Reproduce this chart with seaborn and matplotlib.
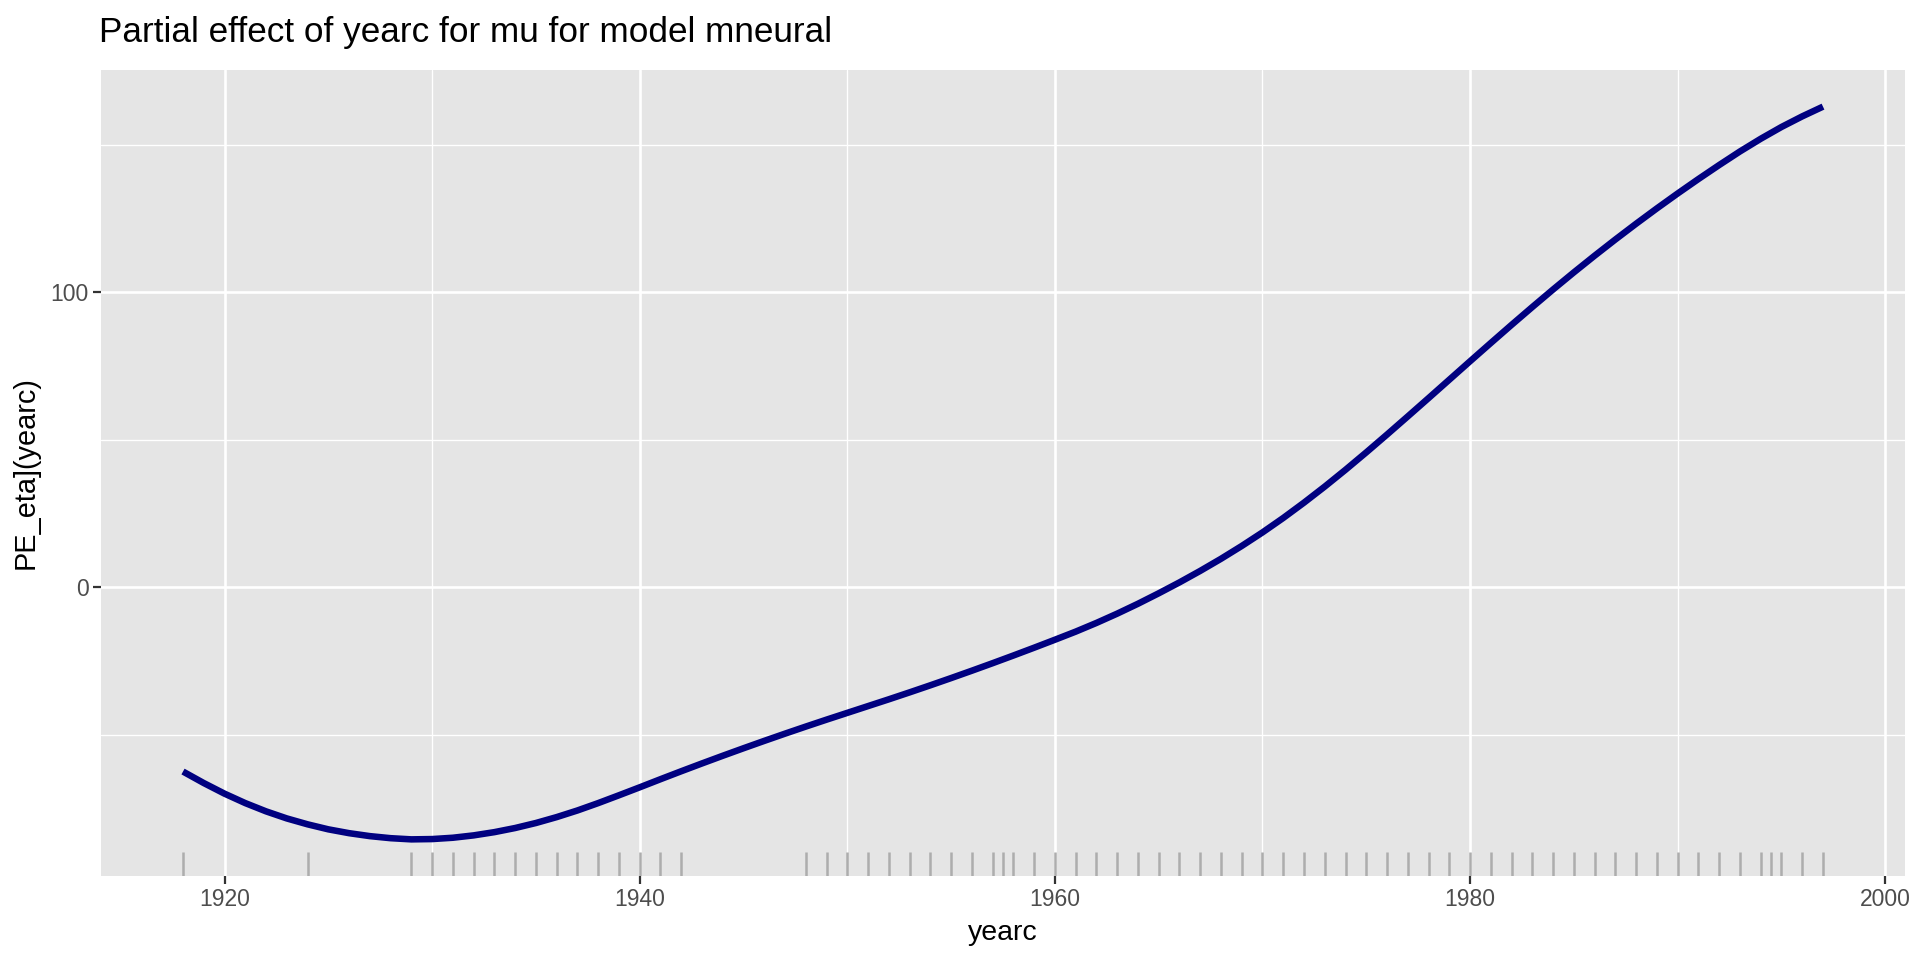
import seaborn as sns
import pandas as pd
import numpy as np
import matplotlib.pyplot as plt
from matplotlib.ticker import FixedLocator

# partial effect curve (one value per year)
years = list(range(1918, 1998))
effect = [-62.5, -66.4, -70.0, -73.2, -76.0, -78.4, -80.4, -82.1, -83.4, -84.4,
          -85.1, -85.5, -85.4, -84.95, -84.15, -83.05, -81.65, -79.95, -77.95, -75.7,
          -73.2, -70.55, -67.85, -65.1, -62.4, -59.75, -57.15, -54.6, -52.1, -49.65,
          -47.25, -44.9, -42.6, -40.3, -38.0, -35.65, -33.25, -30.8, -28.3, -25.75,
          -23.15, -20.5, -17.8, -15.05, -12.1, -8.95, -5.6, -2.05, 1.65, 5.55,
          9.65, 14.0, 18.6, 23.5, 28.7, 34.15, 39.85, 45.75, 51.8, 57.95,
          64.15, 70.4, 76.65, 82.85, 89.0, 95.05, 101.0, 106.8, 112.45, 117.95,
          123.3, 128.5, 133.55, 138.45, 143.2, 147.8, 152.1, 156.1, 159.7, 163.0]

# observed yearc values (rug)
rug_years = [1918, 1924, 1929, 1930, 1931, 1932, 1933, 1934, 1935, 1936, 1937, 1938,
             1939, 1940, 1941, 1942, 1948, 1949, 1950, 1951, 1952, 1953, 1954, 1955,
             1956, 1957, 1957.5, 1958, 1959, 1960, 1961, 1962, 1963, 1964, 1965, 1966,
             1967, 1968, 1969, 1970, 1971, 1972, 1973, 1974, 1975, 1976, 1977, 1978,
             1979, 1980, 1981, 1982, 1983, 1984, 1985, 1986, 1987, 1988, 1989, 1990,
             1991, 1992, 1993, 1994, 1994.5, 1995, 1996, 1997]

x_breaks = [1920, 1940, 1960, 1980, 2000]
x_minor = [1930, 1950, 1970, 1990]
y_breaks = [0, 100]
y_minor = [-50, 50, 150]

df = pd.DataFrame({'yearc': years, 'pe': effect})

sns.set_theme(style='darkgrid', rc={
    'axes.facecolor': '#E5E5E5',
    'grid.color': 'white',
    'axes.edgecolor': '#E5E5E5',
})
plt.rcParams['font.family'] = ['Liberation Sans', 'DejaVu Sans']

fig = plt.figure(figsize=(19.2, 9.6), dpi=100)
ax = fig.add_axes([101 / 1920, 1 - 876 / 960, 1804 / 1920, 806 / 960])

sns.rugplot(x=rug_years, ax=ax, height=0.03, color='#adadad', linewidth=1.8, clip_on=True)
sns.lineplot(data=df, x='yearc', y='pe', ax=ax, color='#000080', linewidth=4.7,
             solid_capstyle='butt')

# ggplot style 5% expansion
xr = max(years) - min(years)
ax.set_xlim(min(years) - 0.05 * xr, max(years) + 0.05 * xr)
yr = max(effect) - min(effect)
ax.set_ylim(min(effect) - 0.05 * yr, max(effect) + 0.05 * yr)

ax.xaxis.set_major_locator(FixedLocator(x_breaks))
ax.xaxis.set_minor_locator(FixedLocator(x_minor))
ax.yaxis.set_major_locator(FixedLocator(y_breaks))
ax.yaxis.set_minor_locator(FixedLocator(y_minor))
ax.grid(which='major', color='white', linewidth=1.9)
ax.grid(which='minor', color='white', linewidth=0.95)
ax.set_axisbelow(True)
for s in ax.spines.values():
    s.set_visible(False)

ax.tick_params(axis='both', which='major', length=5.5, width=1.6, color='#333333',
               labelsize=16.5, labelcolor='#4D4D4D', pad=3.5,
               bottom=True, left=True)
ax.tick_params(axis='both', which='minor', length=0)

ax.set_xlabel('yearc', fontsize=20.5, color='black', labelpad=6)
ax.set_ylabel('PE_eta](yearc)', fontsize=20.8, color='black', labelpad=8)
ax.set_title('Partial effect of yearc for mu for model mneural', fontsize=25.3,
             loc='left', color='black', pad=20, x=-0.001)

plt.savefig('out.png', dpi=100)
